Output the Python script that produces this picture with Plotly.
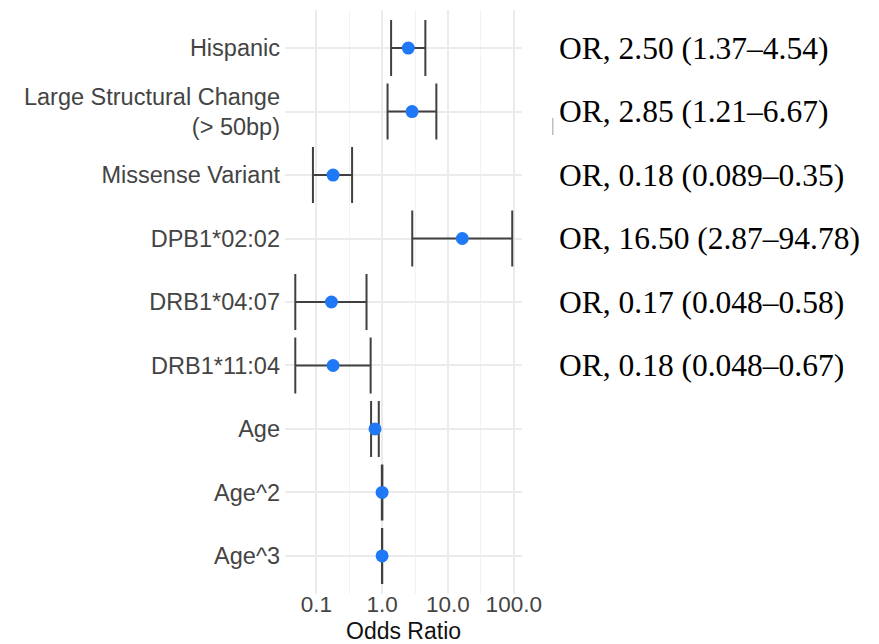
import plotly.graph_objects as go

# ---- data ----
labels = ["Hispanic", "Large Structural Change<br>(> 50bp)", "Missense Variant",
          "DPB1*02:02", "DRB1*04:07", "DRB1*11:04", "Age", "Age^2", "Age^3"]
odds = [2.50, 2.85, 0.18, 16.50, 0.17, 0.18, 0.78, 1.00, 1.00]
ci_low = [1.37, 1.21, 0.089, 2.87, 0.048, 0.048, 0.68, 0.99, 0.995]
ci_high = [4.54, 6.67, 0.35, 94.78, 0.58, 0.67, 0.89, 1.01, 1.005]
or_text = ["OR, 2.50 (1.37–4.54)", "OR, 2.85 (1.21–6.67)", "OR, 0.18 (0.089–0.35)",
           "OR, 16.50 (2.87–94.78)", "OR, 0.17 (0.048–0.58)", "OR, 0.18 (0.048–0.67)"]
tick_vals = [0.1, 1, 10, 100]
tick_text = ["0.1", "1.0", "10.0", "100.0"]
minor_vals = [0.0316, 0.316, 3.16, 31.6]
x_title = "Odds Ratio"

plus = [h - o for h, o in zip(ci_high, odds)]
minus = [o - l for o, l in zip(odds, ci_low)]

fig = go.Figure()
fig.add_trace(go.Scatter(
    x=odds, y=labels, mode="markers",
    marker=dict(color="#1f78f5", size=13),
    error_x=dict(type="data", array=plus, arrayminus=minus, symmetric=False,
                 color="#404040", thickness=2, width=28),
    showlegend=False, hoverinfo="skip",
))

# reference line at OR = 1
fig.add_shape(type="line", xref="x", yref="paper", x0=1, x1=1, y0=0, y1=1,
              line=dict(color="#707070", width=1.5, dash="dot"), layer="below")

for lab, txt in zip(labels, or_text):
    fig.add_annotation(text=txt, x=1.146, xref="paper", y=lab, yref="y",
                       xanchor="left", yanchor="middle", showarrow=False,
                       font=dict(family="Liberation Serif", size=31.5, color="#000000"))

# x-axis title
fig.add_annotation(text=x_title, x=0.5, xref="paper", y=-0.0625, yref="paper",
                   xanchor="center", yanchor="middle", showarrow=False, borderpad=0,
                   font=dict(family="Liberation Sans", size=23, color="#111111"))

# small scan artifact
fig.add_shape(type="line", xref="paper", yref="paper",
              x0=1.13, x1=1.13, y0=1 - (118 - 10) / 584, y1=1 - (135 - 10) / 584,
              line=dict(color="#b0b0b0", width=1.2))

fig.update_layout(
    width=879, height=644,
    margin=dict(l=285, r=357, t=10, b=50),
    plot_bgcolor="white", paper_bgcolor="white",
    font=dict(family="Liberation Sans", color="#444444"),
    xaxis=dict(type="log", range=[-1.475, 2.125], automargin=False,
               tickvals=tick_vals, ticktext=tick_text,
               tickfont=dict(size=22.5, color="#444444"),
               showgrid=True, gridcolor="#ebebeb", gridwidth=1.5,
               minor=dict(tickvals=minor_vals, showgrid=True, gridcolor="#f2f2f2", gridwidth=1),
               zeroline=False, showline=False, ticks="", ticklabelstandoff=-6),
    yaxis=dict(type="category", categoryarray=labels, range=[8.6, -0.6], automargin=False,
               tickfont=dict(size=23.5, color="#444444"),
               showgrid=True, gridcolor="#ebebeb", gridwidth=1.5,
               zeroline=False, showline=False, ticks="", ticklabelstandoff=4),
)

fig.write_html("out.html", config={"displayModeBar": False},
               post_script="document.body.style.margin='0px';document.body.style.overflow='hidden';")
